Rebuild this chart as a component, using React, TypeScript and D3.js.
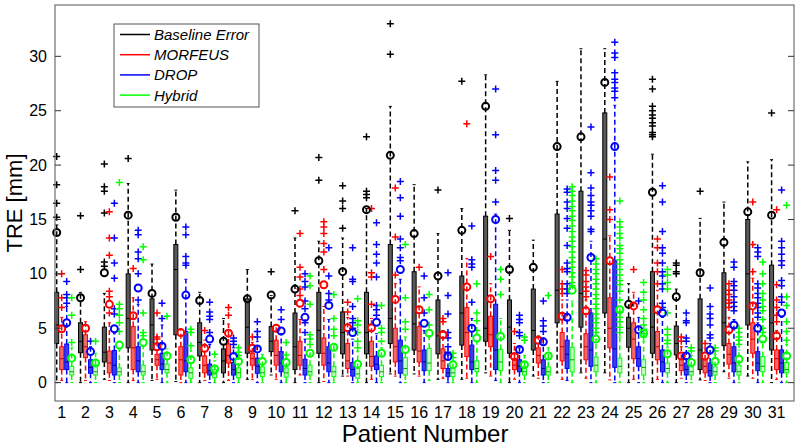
import React from "react";
import * as d3 from "d3";

// [lowWhisker, q1, median, q3, highWhisker, mean]
type Stat = [number, number, number, number, number, number];

const patients = d3.range(1, 32);
const yTicks = [0, 5, 10, 15, 20, 25, 30];
const seriesNames = ["Baseline Error", "MORFEUS", "DROP", "Hybrid"];

const baselineStats: Stat[] = [
  [0, 3.6, 5.3, 8.3, 14.5, 13.8], [0, 2.75, 3.8, 5.5, 8.3, 7.8], [0.3, 1.9, 2.8, 5.1, 8.2, 10.1],
  [0, 3.2, 5.9, 10.0, 18.3, 15.4], [0.2, 3.0, 5.3, 7.7, 10.9, 8.2], [0.1, 4.4, 10.4, 12.7, 17.7, 15.2],
  [0, 2.45, 3.7, 5.5, 8.3, 7.55], [0, 0.9, 2.0, 3.1, 5.9, 3.8], [0.3, 2.7, 5.1, 7.7, 10.4, 7.7],
  [0.7, 2.85, 3.8, 5.15, 8.0, 8.05], [0, 1.2, 3.3, 6.4, 13.3, 8.6], [0, 2.7, 4.8, 8.3, 13.0, 11.2],
  [0.6, 2.65, 4.6, 6.5, 13.3, 10.2], [0, 2.65, 4.6, 8.3, 16.0, 15.9], [0.8, 3.6, 5.9, 12.7, 25.4, 20.9],
  [0.8, 3.0, 5.4, 10.2, 18.2, 13.7], [0.3, 2.65, 4.3, 7.6, 13.7, 9.8], [0.3, 3.45, 6.4, 9.8, 16.0, 14.0],
  [0.9, 3.8, 5.0, 15.3, 28.3, 25.4], [0, 2.7, 5.1, 7.6, 14.0, 10.4], [0.6, 3.0, 4.8, 8.6, 13.1, 10.6],
  [0.9, 5.5, 8.5, 15.5, 27.7, 21.7], [0.9, 5.1, 8.2, 17.6, 30.7, 22.6], [0.9, 6.4, 13.2, 24.8, 30.7, 27.6],
  [0, 3.25, 5.0, 6.0, 9.1, 7.2], [0, 2.7, 5.1, 10.2, 21.0, 17.5], [0, 2.55, 3.6, 5.2, 8.6, 7.9],
  [0.25, 1.2, 3.0, 7.7, 15.1, 10.1], [1.0, 3.4, 5.5, 10.1, 16.6, 12.9], [0.6, 5.3, 10.0, 15.0, 20.3, 15.7],
  [0, 3.0, 5.5, 10.8, 20.5, 15.4],
];
const baselineOutliers: number[][] = [
  [15.2, 16.5, 18.2, 20.8], [10.4, 15.35], [10.7, 11.1, 15.6, 17.6, 18.0, 20.1], [20.6], [], [], [], [], [],
  [10.2], [15.8], [18.6, 20.7], [14.2, 16.0, 16.7, 18.1], [17.0, 17.3, 17.6, 22.6], [30.2, 33.0], [], [17.7],
  [27.7], [], [15.1], [], [], [], [], [], [22.6, 22.8, 23.0, 23.6, 23.9, 24.3, 24.6, 25.0, 25.4, 27.0, 27.9],
  [10.0, 10.2, 10.8, 11.0], [17.6], [], [], [24.8],
];

const morfeusStats: Stat[] = [
  [0.2, 1.2, 2.2, 3.3, 6.0, 4.95], [0.2, 2.3, 3.3, 4.4, 5.6, 5.0], [0.2, 0.9, 1.8, 2.9, 5.5, 7.2],
  [0.2, 1.2, 3.2, 5.15, 7.8, 6.15], [0.3, 1.6, 2.1, 2.6, 3.7, 3.3], [0, 0.7, 2.1, 3.3, 4.9, 4.6],
  [0.2, 0.9, 1.6, 2.45, 3.9, 3.15], [0.2, 1.8, 2.5, 3.55, 5.4, 4.55], [0.3, 1.6, 2.2, 2.7, 3.7, 3.15],
  [0.3, 1.6, 2.5, 3.9, 5.3, 5.0], [0.7, 1.6, 2.5, 3.8, 5.8, 7.3], [0.1, 1.6, 2.7, 4.1, 7.0, 9.0],
  [0.6, 1.3, 2.0, 3.6, 6.0, 5.05], [0.3, 1.5, 2.4, 3.8, 5.9, 5.05], [0.6, 1.9, 3.3, 5.0, 9.1, 7.65],
  [0.6, 1.9, 2.9, 5.15, 8.8, 6.7], [0.4, 1.3, 2.0, 3.1, 4.8, 4.4], [0.4, 2.4, 4.6, 6.9, 11.4, 8.8],
  [0.6, 3.3, 4.4, 6.1, 9.1, 7.7], [0.3, 1.2, 1.6, 2.2, 3.6, 2.4], [0.4, 1.8, 2.5, 3.2, 4.3, 3.9],
  [0.3, 2.0, 3.3, 4.6, 7.6, 6.1], [0.4, 2.1, 3.3, 4.5, 7.6, 6.6], [0.25, 3.2, 5.0, 7.8, 13.5, 11.2],
  [0.3, 2.2, 4.0, 5.5, 8.3, 7.05], [0.3, 2.1, 3.3, 4.7, 8.5, 6.7], [0.4, 1.1, 1.6, 2.15, 3.3, 2.45],
  [0.2, 0.9, 1.5, 2.1, 3.2, 2.45], [0.4, 1.7, 2.6, 3.6, 6.0, 4.85], [0.4, 2.7, 4.0, 5.5, 9.6, 7.05],
  [0.3, 1.2, 2.2, 3.0, 4.8, 4.3],
];
const morfeusOutliers: number[][] = [
  [6.9, 7.8, 10.0], [], [6.4, 7.9, 8.4, 11.7, 13.3, 15.7], [10.5], [4.0, 4.2, 6.4], [], [4.8], [6.2, 6.9],
  [4.2], [], [8.0, 8.6, 9.7, 10.6, 13.7], [10.4, 12.0, 12.8, 13.7, 14.3, 14.8], [6.5, 7.4],
  [7.2, 9.7, 10.1, 16.0], [9.9, 13.4, 17.9], [10.6], [5.6, 5.9], [23.8], [11.6], [4.7], [],
  [8.2, 8.6, 9.1, 10.4], [7.9, 8.4, 8.8, 9.3, 9.9, 10.3], [15.0, 15.9, 18.9], [10.4],
  [9.1, 10.2, 11.0, 12.4, 13.2], [3.8, 4.2], [3.6], [6.9, 7.3, 7.6, 8.1, 8.5, 9.1], [10.2, 12.7, 16.6],
  [5.6, 6.2, 6.9, 7.6, 9.0, 15.9],
];

const dropStats: Stat[] = [
  [0, 1.2, 1.9, 3.55, 7.0, 5.5], [0, 0.86, 1.4, 2.1, 3.3, 2.85], [0, 0.7, 1.6, 2.95, 4.5, 4.95],
  [0, 1.0, 2.0, 3.3, 7.2, 8.7], [0, 1.2, 1.7, 2.7, 5.3, 3.35], [0, 1.0, 2.0, 4.7, 9.5, 8.05],
  [0, 0.7, 1.1, 1.7, 3.5, 4.0], [0, 0.7, 1.2, 1.85, 3.2, 2.4], [0, 0.86, 1.5, 2.25, 3.8, 3.1],
  [0, 1.0, 1.8, 2.85, 4.5, 4.75], [0, 0.7, 1.3, 2.15, 4.0, 6.0], [0, 1.0, 1.8, 3.3, 5.8, 7.1],
  [0, 0.6, 1.2, 1.85, 4.0, 4.6], [0, 1.2, 1.7, 2.45, 4.5, 5.55], [0, 0.86, 2.0, 3.9, 9.5, 10.4],
  [0, 1.1, 1.9, 3.0, 4.8, 5.45], [0, 0.55, 0.9, 1.3, 2.5, 2.4], [0, 1.2, 1.9, 3.45, 5.9, 5.0],
  [0.2, 1.2, 3.0, 7.2, 15.5, 15.0], [0, 1.0, 1.5, 2.1, 3.2, 3.05], [0, 0.7, 1.3, 2.1, 4.1, 3.75],
  [0.2, 1.3, 2.6, 3.9, 7.6, 6.0], [0, 1.5, 3.0, 6.4, 13.0, 11.5], [0, 1.4, 3.1, 11.2, 25.5, 21.7],
  [0, 1.5, 2.2, 3.3, 6.0, 4.85], [0, 1.0, 1.9, 3.0, 6.0, 6.4], [0, 0.7, 1.2, 1.8, 3.3, 2.45],
  [0, 0.6, 1.1, 1.8, 3.6, 3.0], [0, 1.0, 1.8, 3.3, 5.8, 5.3], [0, 1.1, 1.8, 2.85, 5.5, 5.0],
  [0, 0.9, 1.8, 3.0, 6.0, 6.4],
];
const dropOutliers: number[][] = [
  [7.3, 7.8, 8.1, 9.3], [3.8], [6.3, 6.8, 9.6, 11.0, 13.3, 16.5], [7.6, 10.0, 11.4, 12.0, 13.6, 14.0],
  [5.9, 7.3], [10.8, 11.0, 11.6, 13.6, 14.3], [4.6, 5.8, 6.1, 6.5, 7.4], [3.5, 3.8, 4.1], [4.2, 4.7, 5.6],
  [5.8, 6.7], [4.6, 5.5, 6.8, 7.5, 8.8, 9.3, 10.0], [7.6, 8.2, 9.8, 12.4], [5.0, 5.5, 5.9, 7.0, 9.3, 9.5, 12.4],
  [6.2, 6.7, 7.1, 9.7, 11.0, 11.8, 12.7, 14.7], [11.2, 11.5, 12.4, 13.2, 15.3, 17.0, 18.5], [6.4, 7.8, 9.8],
  [2.8, 3.3, 4.1, 4.6, 6.3, 8.0, 10.1], [7.4, 10.6, 10.9, 11.3, 14.4], [16.6, 18.6, 19.5, 22.8, 27.0],
  [4.3, 4.6, 5.5, 5.8, 6.2], [4.7, 5.2, 5.7, 7.5],
  [8.2, 8.6, 9.1, 10.2, 10.5, 11.0, 12.6, 14.2, 15.1, 16.0, 16.6, 17.5, 17.8],
  [13.9, 14.1, 15.3, 15.8, 16.3, 16.6, 17.2, 17.9, 19.3, 23.5],
  [26.2, 26.8, 27.1, 27.6, 27.9, 28.5, 29.9, 30.3, 31.3], [7.5],
  [6.9, 7.3, 8.6, 9.1, 9.8, 10.2, 11.0, 11.9, 12.4, 13.9, 16.6, 18.1], [3.8, 4.1, 5.5, 5.7, 6.4],
  [4.1, 4.4, 5.3, 5.9, 6.3, 7.0, 8.7], [6.6, 7.0, 7.4, 7.9, 8.5, 8.9, 9.3, 10.6, 11.1],
  [6.0, 6.4, 6.9, 7.3, 7.8, 8.2, 8.7, 9.1, 11.6, 12.0, 12.4], [7.4, 7.9, 8.9, 9.4, 10.8, 11.2, 11.8, 12.4, 13.0, 17.7],
];

const hybridStats: Stat[] = [
  [0, 0.7, 1.0, 1.5, 3.2, 2.25], [0, 0.7, 1.0, 1.6, 2.7, 1.8], [0, 0.7, 1.0, 1.35, 3.0, 3.45],
  [0, 0.7, 1.0, 1.6, 3.3, 3.7], [0, 0.9, 1.2, 1.7, 3.1, 2.45], [0, 0.4, 0.9, 1.35, 3.0, 2.1],
  [0, 0.45, 0.8, 1.2, 2.0, 1.25], [0, 0.45, 0.9, 1.35, 2.2, 1.95], [0, 0.55, 0.9, 1.45, 2.6, 1.95],
  [0, 0.5, 0.9, 1.35, 2.2, 1.85], [0, 0.7, 1.0, 1.6, 3.0, 2.7], [0, 0.55, 1.0, 1.5, 3.5, 3.25],
  [0, 0.4, 0.8, 1.3, 2.9, 1.7], [0, 0.55, 1.0, 1.6, 3.2, 2.7], [0, 0.7, 1.3, 2.3, 4.2, 3.05],
  [0.2, 1.1, 1.8, 3.15, 4.3, 4.55], [0, 0.55, 0.9, 1.3, 2.0, 1.65], [0, 1.0, 1.3, 2.0, 3.8, 4.1],
  [0, 1.1, 1.9, 3.05, 5.9, 4.25], [0, 0.7, 1.0, 1.45, 2.5, 1.65], [0, 0.7, 1.0, 1.45, 3.2, 2.45],
  [0, 1.0, 2.1, 3.25, 7.5, 8.5], [0, 1.0, 1.6, 2.35, 4.0, 4.0], [0, 0.9, 1.5, 2.25, 4.2, 6.7],
  [0, 0.7, 1.4, 2.1, 3.8, 4.55], [0, 0.9, 1.3, 1.8, 3.2, 2.65], [0, 0.7, 1.0, 1.45, 2.5, 1.85],
  [0, 0.7, 1.0, 1.45, 2.6, 1.95], [0, 0.7, 1.0, 1.6, 3.0, 2.15], [0, 1.0, 1.5, 2.4, 3.8, 4.0],
  [0, 0.9, 1.2, 1.85, 3.5, 2.45],
];
const hybridOutliers: number[][] = [
  [3.7, 6.2, 7.8], [3.8], [4.7, 5.5, 6.2, 6.8, 7.2, 18.4], [4.3, 4.6, 6.4, 11.3, 12.5], [6.1], [3.4, 4.6, 4.9],
  [2.6], [2.5, 2.8, 3.2], [], [2.55, 3.7], [3.5, 4.0, 4.4, 7.2, 8.9, 9.8], [4.3, 4.9, 5.9, 8.1],
  [3.2, 3.8, 4.6, 5.3, 5.7, 7.7], [3.8, 4.6, 5.0, 7.1], [4.9, 5.6, 7.8, 12.7], [5.3, 6.7, 8.1], [2.3, 2.7],
  [4.8, 5.7, 6.4, 9.1], [8.1, 9.5, 10.4], [3.9, 4.2], [8.0],
  [8.9, 9.2, 9.7, 10.1, 10.6, 11.1, 11.5, 12.0, 12.5, 13.0, 13.4, 13.9, 14.4, 14.9, 15.3, 15.8, 16.2, 16.7, 17.2, 17.6, 18.0],
  [4.6, 5.0, 5.5, 5.9, 6.3, 6.8, 7.2, 7.7, 8.1, 8.6, 9.1, 9.5, 10.0, 10.4, 10.9, 11.4],
  [4.6, 5.1, 5.6, 6.0, 6.5, 7.6, 8.4, 9.0, 9.4, 9.9, 10.4, 10.9, 11.3, 11.9, 12.3, 12.6, 13.3, 13.7, 14.3, 14.8, 16.7],
  [4.2, 4.5, 4.9, 5.3, 5.9, 6.7, 7.6, 8.3, 9.2], [3.6, 3.9, 4.4, 4.9, 6.4, 8.6, 9.2, 9.9, 10.4], [2.9, 3.2],
  [2.9, 3.2], [3.5, 3.9, 4.2, 4.6, 5.0], [4.6, 5.0, 5.8, 6.6, 7.0, 7.6, 8.2, 9.1, 10.0, 11.1],
  [3.9, 4.7, 5.6, 7.1, 7.9, 16.3],
];

const seriesColors = ["#000000", "#ff0000", "#0000ff", "#00ff00"];
const seriesFills = ["#5a5a5a", "#f06a6a", "#3c3ce0", "#c8ffc8"];
const seriesMedian = ["#000000", "#b00000", "#000090", "#00a000"];
const seriesOffsets = [0, 0.21, 0.42, 0.63];
const allStats = [baselineStats, morfeusStats, dropStats, hybridStats];
const allOutliers = [baselineOutliers, morfeusOutliers, dropOutliers, hybridOutliers];

const W = 800, H = 448;
const L = 55, R = 794, T = 5, B = 401;

export default function App() {
  const x = d3.scaleLinear().domain([0.929, 31.94]).range([L, R]);
  const y = d3.scaleLinear().domain([-1.69, 34.72]).range([B, T]);
  const bw = 4;
  const font = "Liberation Sans, Arial, sans-serif";

  const marks: React.ReactNode[] = [];
  const circles: React.ReactNode[] = [];
  patients.forEach((p, i) => {
    allStats.forEach((stats, s) => {
      const [lo, q1, med, q3, hi, mean] = stats[i];
      const cx = x(p + seriesOffsets[s]);
      const c = seriesColors[s];
      const k = `${p}-${s}`;
      marks.push(
        <g key={k}>
          <line x1={cx} x2={cx} y1={y(q3)} y2={y(hi)} stroke={c} strokeWidth={1.5} strokeDasharray="5,3" />
          <line x1={cx} x2={cx} y1={y(q1)} y2={y(lo)} stroke={c} strokeWidth={1.5} strokeDasharray="5,3" />
          <line x1={cx - 1.5} x2={cx + 1.5} y1={y(hi)} y2={y(hi)} stroke={c} strokeWidth={1} />
          <line x1={cx - 1.5} x2={cx + 1.5} y1={y(lo)} y2={y(lo)} stroke={c} strokeWidth={1} />
          <rect x={cx - bw / 2} y={y(q3)} width={bw} height={y(q1) - y(q3)} fill={seriesFills[s]} stroke={c} strokeWidth={1} />
          <line x1={cx - bw / 2} x2={cx + bw / 2} y1={y(med)} y2={y(med)} stroke={seriesMedian[s]} strokeWidth={1} />
          {allOutliers[s][i].map((v, j) => (
            <path key={j} d={`M${cx - 3.5},${y(v)}h7M${cx},${y(v) - 3.5}v7`} stroke={c} strokeWidth={1.5} fill="none" />
          ))}
        </g>
      );
      circles.push(
        <circle key={k} cx={cx} cy={y(mean)} r={3.5} fill="none" stroke={c} strokeWidth={2} />
      );
    });
  });

  return (
    <svg width={W} height={H} style={{ position: "fixed", left: 0, top: 0, background: "#fff" }} fontFamily={font}>
      <rect x={0} y={0} width={W} height={H} fill="#fff" />
      {marks}
      {circles}
      <rect x={L} y={T} width={R - L} height={B - T} fill="none" stroke="#707070" strokeWidth={1.2} />
      {yTicks.map((t) => (
        <g key={t}>
          <line x1={L} x2={L + 6} y1={y(t)} y2={y(t)} stroke="#333" strokeWidth={1} />
          <line x1={R - 6} x2={R} y1={y(t)} y2={y(t)} stroke="#333" strokeWidth={1} />
          <text x={L - 8} y={y(t) + 5.5} textAnchor="end" fontSize={16} fill="#000">{t}</text>
        </g>
      ))}
      {patients.map((p) => (
        <text key={p} x={x(p + 0.21)} y={418} textAnchor="middle" fontSize={16} fill="#000">{p}</text>
      ))}
      <text x={425} y={442} textAnchor="middle" fontSize={24} fill="#000">Patient Number</text>
      <text transform={`translate(22,${(T + B) / 2}) rotate(-90)`} textAnchor="middle" fontSize={22} fill="#000">TRE [mm]</text>
      <g>
        <rect x={114} y={24} width={145} height={83} fill="#fff" stroke="#555" strokeWidth={1} />
        {seriesNames.map((n, i) => {
          const ly = 34.5 + i * 20.2;
          return (
            <g key={n}>
              <line x1={120} x2={150} y1={ly} y2={ly} stroke={seriesColors[i]} strokeWidth={1.5} />
              <text x={154} y={ly + 5.5} fontSize={15} fontStyle="italic" fill="#000">{n}</text>
            </g>
          );
        })}
      </g>
    </svg>
  );
}
